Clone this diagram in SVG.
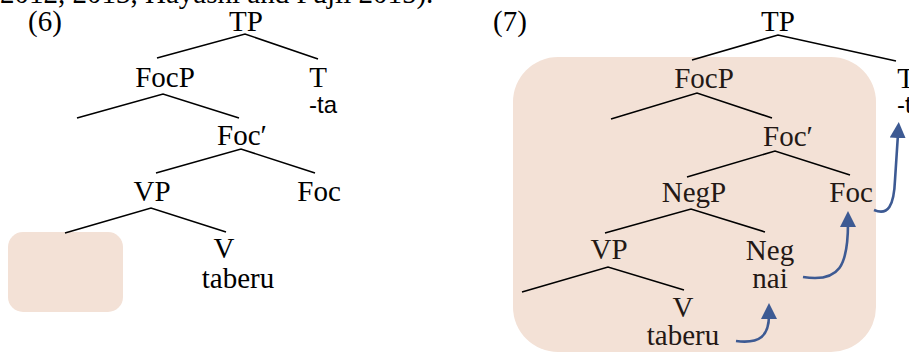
<svg xmlns="http://www.w3.org/2000/svg" width="909" height="352" viewBox="0 0 909 352">
<style>
  .t { font-family: "Liberation Serif", "Times New Roman", serif; font-size: 29px; fill: #000; text-anchor: middle; }
  .t7 { fill: #231815; }
  .s { font-family: "Liberation Sans", Arial, sans-serif; font-size: 24px; fill: #000; text-anchor: middle; }
  .l { stroke: #000; stroke-width: 1.6; fill: none; }
  .box { fill: #f3e1d6; }
  .arr { stroke: #3d5a93; stroke-width: 2.6; fill: none; marker-end: url(#ah); }
</style>
<defs>
  <marker id="ah" markerWidth="16" markerHeight="16" refX="4" refY="8" orient="auto" markerUnits="userSpaceOnUse" viewBox="0 0 16 16">
    <path d="M0,0 L16,8 L0,16 Z" fill="#3d5a93"/>
  </marker>
</defs>
<text class="t" x="0" y="3" style="text-anchor:start">2012, 2013, Hayashi and Fujii 2015).</text>

<g id="ex6-label"><text class="t" x="45" y="31">(6)</text></g>
<g id="ex6-placeholder"><rect class="box" x="8" y="232" width="115" height="80" rx="15"/></g>
<g id="ex6-TP"><text class="t" x="246" y="31">TP</text></g>
<g id="ex6-FocP"><text class="t" x="165" y="87">FocP</text></g>
<g id="ex6-T"><text class="t" x="318" y="87">T</text><text class="s" x="323" y="113">-ta</text></g>
<g id="ex6-Focbar"><text class="t" x="242" y="145">Foc′</text></g>
<g id="ex6-VP"><text class="t" x="152" y="201">VP</text></g>
<g id="ex6-Foc"><text class="t" x="319" y="201">Foc</text></g>
<g id="ex6-V"><text class="t" x="224" y="258">V</text><text class="t" x="238" y="288">taberu</text></g>

<g id="ex7-box"><rect class="box" x="513" y="57" width="363" height="295" rx="45"/></g>
<g id="ex7-label"><text class="t" x="510" y="31">(7)</text></g>
<g id="ex7-TP"><text class="t" x="778" y="31">TP</text></g>
<g id="ex7-FocP"><text class="t t7" x="704" y="88">FocP</text></g>
<g id="ex7-T"><text class="t" x="906" y="88">T</text><text class="s" x="911" y="113">-ta</text></g>
<g id="ex7-Focbar"><text class="t t7" x="788" y="146">Foc′</text></g>
<g id="ex7-NegP"><text class="t t7" x="694" y="202">NegP</text></g>
<g id="ex7-Foc"><text class="t t7" x="851" y="202">Foc</text></g>
<g id="ex7-VP"><text class="t t7" x="609" y="259">VP</text></g>
<g id="ex7-Neg"><text class="t t7" x="770" y="260">Neg</text><text class="t t7" x="770" y="288">nai</text></g>
<g id="ex7-V"><text class="t t7" x="683" y="317">V</text><text class="t t7" x="683" y="345">taberu</text></g>

<g id="connectors">
  <path class="l" d="M157,58 L245,34 L318,59"/>
  <path class="l" d="M77,118 L163,94 L239,118"/>
  <path class="l" d="M156,173 L241,149 L315,173"/>
  <path class="l" d="M65,233 L151,208 L226,232"/>

  <path class="l" d="M692,60 L778,35 L896,61"/>
  <path class="l" d="M611,119 L697,93 L772,118"/>
  <path class="l" d="M687,177 L775,151 L850,175"/>
  <path class="l" d="M605,233 L691,209 L765,232"/>
  <path class="l" d="M522,292 L608,267 L684,290"/>

  <path class="arr" d="M736,341 C760,344 769,336 769,315"/>
  <path class="arr" d="M803,277 C840,283 848,265 848,223"/>
  <path class="arr" d="M874,210 C888,216 894,206 895,180 L898,134"/>
</g>
</svg>
